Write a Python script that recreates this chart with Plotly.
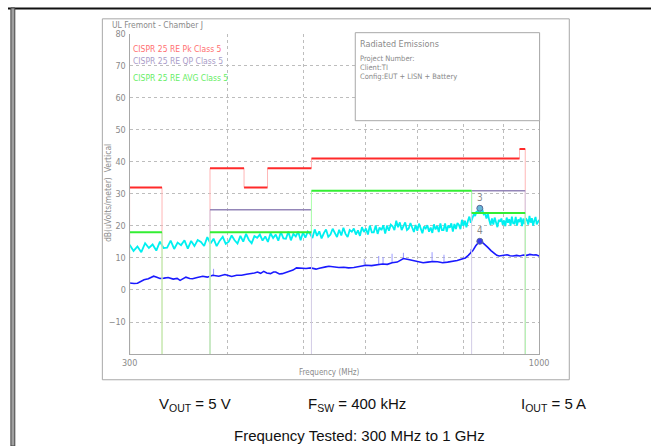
import math
import plotly.graph_objects as go

W, H = 661, 446

# ---------------- data ----------------
# CISPR 25 Class 5 limit bands (MHz) and levels (dBuV/m)
pk_band_start = [300, 380, 420, 450, 512, 944]
pk_band_stop = [330, 420, 450, 512, 944, 960]
pk_level = [32, 38, 32, 38, 41, 44]

qp_band_start = [380, 820]
qp_band_stop = [512, 960]
qp_level = [25, 31]

avg_band_start = [300, 380, 512, 820]
avg_band_stop = [330, 512, 820, 960]
avg_level = [18, 18, 31, 24]

# Average detector trace (blue)
blue_f = [300, 304, 307, 310, 313, 317, 322, 325, 328, 332, 336, 341, 345, 348, 351, 354, 358, 361,
          366, 372, 377, 383, 390, 397, 401, 405, 411, 417, 423, 429, 433, 437, 441, 445, 449, 454,
          458, 461, 466, 470, 475, 481, 485, 490, 497, 504, 511, 519, 524, 529, 534, 539, 547, 555,
          563, 571, 580, 588, 595, 601, 611, 622, 631, 640, 649, 659, 665, 671, 681, 691, 701, 711,
          721, 732, 742, 753, 764, 775, 786, 797, 805, 812, 818, 823, 830, 836, 840, 845, 852, 860,
          868, 877, 883, 889, 900, 910, 918, 926, 936, 945, 955, 964, 973, 983, 991, 1000]
blue_db = [2.2, 2.0, 2.1, 2.6, 3.2, 3.5, 4.3, 4.0, 3.6, 3.7, 3.9, 3.4, 3.6, 3.0, 3.4, 4.0, 3.6, 3.5,
           3.9, 4.3, 4.0, 4.6, 4.3, 4.8, 4.5, 4.2, 4.6, 4.6, 4.9, 5.1, 5.3, 5.6, 5.2, 5.8, 5.3, 5.1,
           5.6, 5.6, 5.0, 5.1, 5.5, 5.8, 6.2, 6.9, 6.8, 6.7, 6.9, 6.5, 6.8, 6.9, 7.2, 7.4, 7.1, 7.0,
           7.1, 6.9, 7.0, 7.2, 7.4, 7.7, 7.6, 7.9, 8.1, 8.0, 8.5, 8.7, 9.2, 9.8, 9.5, 9.2, 8.8, 8.5,
           8.7, 8.9, 8.8, 8.5, 8.7, 8.9, 9.2, 9.7, 10.0, 10.8, 11.6, 12.3, 13.8, 14.9, 15.3, 15.0, 14.3, 13.3,
           12.3, 11.3, 10.8, 10.6, 10.8, 11.0, 10.7, 10.6, 10.8, 10.6, 10.9, 10.8, 11.1, 10.9, 11.0, 10.6]

# short spikes on the average trace (freq, base, top)
spike_f = [384, 598, 624, 632, 649, 671, 730, 756, 818]
spike_lo = [4.5, 7.5, 7.9, 8.1, 8.5, 9.8, 8.9, 8.5, 11.6]
spike_hi = [6.6, 9.7, 10.6, 10.3, 11.3, 11.6, 11.8, 11.0, 12.8]

# Peak detector sweep (cyan), 300 MHz start, 3.5 MHz step
cyan_start, cyan_step = 300.0, 3.5
cyan_db = [
    14.1, 12.2, 13.6, 11.8, 14.6, 13.1, 14.2, 12.3, 15.1, 13.1,
    13.2, 15.4, 12.8, 14.8, 14.0, 15.5, 12.9, 15.3, 13.7, 15.6,
    15.0, 13.7, 16.5, 14.5, 16.0, 13.7, 15.4, 16.6, 14.4, 15.1,
    17.0, 15.5, 14.5, 16.9, 15.1, 17.5, 15.6, 14.6, 16.8, 16.3,
    17.3, 15.4, 16.7, 15.0, 17.7, 16.2, 17.3, 15.4, 18.1, 16.1,
    16.0, 18.2, 15.5, 17.5, 16.7, 18.2, 15.5, 18.0, 16.3, 18.2,
    17.5, 16.2, 18.9, 16.9, 18.3, 16.1, 17.7, 18.9, 16.6, 17.3,
    19.1, 17.5, 16.5, 18.8, 17.0, 19.4, 17.5, 16.5, 18.7, 18.2,
    19.2, 17.3, 18.6, 16.9, 19.6, 18.1, 19.2, 17.3, 20.1, 18.0,
    18.0, 20.1, 17.5, 19.5, 18.7, 20.2, 17.6, 20.1, 18.5, 20.4,
    19.9, 18.7, 21.6, 19.6, 21.1, 18.7, 20.2, 21.1, 18.7, 19.2,
    20.9, 19.2, 18.1, 20.3, 18.5, 20.7, 18.8, 17.7, 19.8, 19.2,
    20.2, 18.2, 19.5, 17.8, 20.5, 18.9, 20.0, 18.1, 20.8, 18.7,
    18.7, 20.8, 18.2, 20.1, 19.4, 20.8, 18.2, 20.6, 19.0, 20.9,
    20.3, 19.0, 21.9, 20.0, 21.6, 19.6, 21.5, 22.9, 21.0, 22.1,
    23.6, 23.1, 24.6, 24.0, 25.4, 24.6, 25.2, 23.6, 23.9, 22.3,
    23.8, 21.8, 20.3, 22.3, 20.4, 22.6, 20.7, 19.6, 21.9, 21.3,
    22.3, 20.3, 21.7, 19.9, 22.6, 21.0, 22.1, 20.1, 22.9, 20.8,
    20.7, 22.8, 20.1, 22.0, 21.2, 22.6, 19.9, 22.3, 20.6, 22.4,
    21.8, 20.4, 23.1, 21.0, 22.4, 20.1, 21.7, 22.8, 20.5, 21.1,
    21.9]
cyan_f = [cyan_start + cyan_step * i for i in range(len(cyan_db))]

# Markers
marker_f = [840, 840]
marker_db = [25.5, 15.2]
marker_label = ["3", "4"]

y_ticks = [-10, 0, 10, 20, 30, 40, 50, 60, 70, 80]
x_ticks = [300, 1000]
x_ticktext = ["300", "1000"]
x_minor_grid = [400, 500, 600, 700, 800, 900]
F_MIN, F_MAX = 300, 1000
Y_BOTTOM, Y_TOP = -20, 80

# ---------------- helpers ----------------
def px(x):
    return x / W

def py(y):
    return 1 - y / H

CAD = "Liberation Sans Narrow, DejaVu Sans Condensed, Arial Narrow, sans-serif"
GRAY = "#8a8a8a"

def limit_traces(starts, stops, levels, hcolor, vcolor, hwidth):
    hx, hy, vx, vy = [], [], [], []
    n = len(starts)
    for i in range(n):
        hx += [starts[i], stops[i], None]
        hy += [levels[i], levels[i], None]
        if i > 0 and stops[i - 1] == starts[i]:
            vx += [starts[i], starts[i], None]
            vy += [levels[i - 1], levels[i], None]
        else:
            vx += [starts[i], starts[i], None]
            vy += [Y_BOTTOM, levels[i], None]
        if not (i < n - 1 and starts[i + 1] == stops[i]):
            vx += [stops[i], stops[i], None]
            vy += [levels[i], Y_BOTTOM, None]
    return [
        go.Scatter(x=vx, y=vy, mode="lines", line=dict(color=vcolor, width=1),
                   hoverinfo="skip", showlegend=False),
        go.Scatter(x=hx, y=hy, mode="lines", line=dict(color=hcolor, width=hwidth),
                   hoverinfo="skip", showlegend=False),
    ]

fig = go.Figure()

fig.add_trace(go.Scatter(x=cyan_f, y=cyan_db, mode="lines",
                         line=dict(color="#00f0f0", width=1.8), showlegend=False))
sx, sy = [], []
for f, lo, hi in zip(spike_f, spike_lo, spike_hi):
    sx += [f, f, None]
    sy += [lo, hi, None]
fig.add_trace(go.Scatter(x=sx, y=sy, mode="lines",
                         line=dict(color="#9a9aff", width=1), showlegend=False))
fig.add_trace(go.Scatter(x=blue_f, y=blue_db, mode="lines",
                         line=dict(color="#1a1aff", width=1.6), showlegend=False))

for t in limit_traces(pk_band_start, pk_band_stop, pk_level, "#ff2a2a", "#ffb6b6", 2):
    fig.add_trace(t)
for t in limit_traces(qp_band_start, qp_band_stop, qp_level, "#9486b8", "#d2cce6", 1.5):
    fig.add_trace(t)
for t in limit_traces(avg_band_start, avg_band_stop, avg_level, "#33ee33", "#aaffaa", 2):
    fig.add_trace(t)

fig.add_trace(go.Scatter(x=marker_f, y=marker_db, mode="markers+text",
                         marker=dict(size=6, color=["#66b8d8", "#3a3aee"],
                                     line=dict(color="#5a6a9a", width=1)),
                         text=marker_label, textposition="top center",
                         textfont=dict(family=CAD, size=10, color=GRAY),
                         showlegend=False))

X0, X1, YT, YB = 125, 546, 29, 353

fig.update_layout(
    width=W, height=H, autosize=False,
    margin=dict(l=0, r=0, t=0, b=0, pad=0),
    paper_bgcolor="white", plot_bgcolor="white",
    xaxis=dict(type="log", range=[math.log10(F_MIN), math.log10(F_MAX)], domain=[px(X0), px(X1)],
               tickvals=x_ticks, ticktext=x_ticktext, showgrid=False,
               minor=dict(tickvals=x_minor_grid, showgrid=True, gridcolor="#bdbdbd",
                          griddash="dot", gridwidth=1, ticks=""),
               showline=True, linecolor="#a8a8a8", linewidth=1, mirror=False,
               ticks="", tickfont=dict(family=CAD, size=9, color=GRAY),
               zeroline=False, fixedrange=True),
    yaxis=dict(range=[Y_BOTTOM, Y_TOP], domain=[py(YB), py(YT)],
               tickvals=y_ticks, showgrid=True,
               gridcolor="#bdbdbd", griddash="dot", gridwidth=1,
               showline=True, linecolor="#a8a8a8", linewidth=1, mirror=True,
               ticks="", ticklabelstandoff=1,
               tickfont=dict(family=CAD, size=9, color=GRAY),
               zeroline=False, fixedrange=True),
)

shapes = []
# page top rule and left double rule
shapes.append(dict(type="rect", xref="paper", yref="paper", x0=0, x1=1, y0=py(4.5), y1=py(2.5),
                   fillcolor="#111111", line=dict(width=0), layer="above"))
shapes.append(dict(type="rect", xref="paper", yref="paper", x0=px(3), x1=px(7), y0=0, y1=py(3),
                   fillcolor="#a0a0a0", line=dict(color="#444444", width=1)))
# picture frame
shapes.append(dict(type="rect", xref="paper", yref="paper", x0=px(97), x1=px(577),
                   y0=py(379), y1=py(14), line=dict(color="#a8a8a8", width=1)))
# info box
shapes.append(dict(type="rect", xref="paper", yref="paper", x0=px(357), x1=px(546.5),
                   y0=py(117), y1=py(28), fillcolor="white", layer="above",
                   line=dict(color="#a8a8a8", width=1)))
fig.update_layout(shapes=shapes)

ann = []
def A(x, y, text, size, color, family=CAD, xanchor="left", yanchor="middle", angle=0):
    ann.append(dict(x=px(x), y=py(y), xref="paper", yref="paper", text=text, showarrow=False,
                    xanchor=xanchor, yanchor=yanchor, textangle=angle,
                    font=dict(family=family, size=size, color=color)))

A(105, 20, "UL Fremont - Chamber J", 8.5, GRAY)
A(126, 44, "CISPR 25 RE Pk Class 5", 8.5, "#ff7070")
A(126, 57, "CISPR 25 RE QP Class 5", 8.5, "#a99cc8")
A(126, 74, "CISPR 25 RE AVG Class 5", 8.5, "#66ee66")
A(360, 39, "Radiated Emissions", 9, GRAY)
A(360, 54, "Project Number:", 7.5, GRAY)
A(360, 63, "Client:TI", 7.5, GRAY)
A(360, 72, "Config:EUT + LISN + Battery", 7.5, GRAY)
A(103, 190, "dB(uVolts/meter)  Vertical", 8.5, GRAY, xanchor="center", angle=-90)
A(331, 372, "Frequency (MHz)", 8, GRAY, xanchor="center")

ARIAL = "Liberation Sans, Arial, sans-serif"
A(192, 404, "V<sub>OUT</sub> = 5 V", 15, "#111111", family=ARIAL, xanchor="center")
A(359, 404, "F<sub>SW</sub> = 400 kHz", 15, "#111111", family=ARIAL, xanchor="center")
A(561, 404, "I<sub>OUT</sub> = 5 A", 15, "#111111", family=ARIAL, xanchor="center")
A(361, 435, "Frequency Tested: 300 MHz to 1 GHz", 15, "#111111", family=ARIAL, xanchor="center")

fig.update_layout(annotations=ann)

css_fix = ("var s=document.createElement('style');"
           "s.textContent='html,body{margin:0!important;padding:0!important;overflow:hidden!important;}';"
           "document.head.appendChild(s);")
fig.write_html("out.html", config={"displayModeBar": False, "responsive": False},
               post_script=css_fix)
